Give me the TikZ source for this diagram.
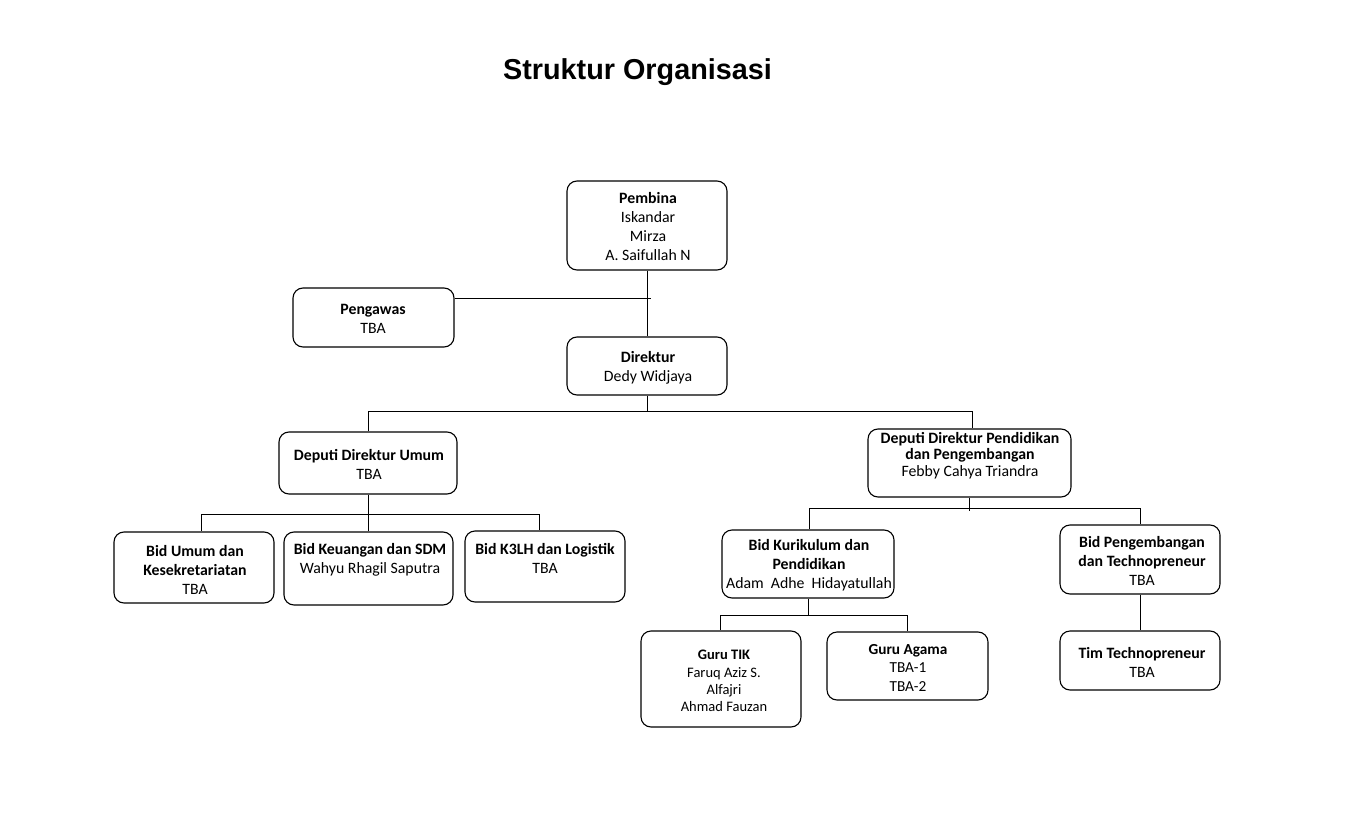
\documentclass[tikz,border=0pt]{standalone}
\usepackage{fontspec}
\setmainfont{Carlito}
\newfontfamily\titlefont{Liberation Sans}
\begin{document}
\begin{tikzpicture}[x=1pt,y=-1pt,
  box/.style={draw=black,line width=1.1pt,rounded corners=10pt,inner sep=0pt},
  txt/.style={align=center,inner sep=0pt,font=\fontsize{15.8}{19}\selectfont},
  conn/.style={draw=black,line width=1pt}]
\useasboundingbox[fill=white] (0,0) rectangle (1372,818);
% title
\node[inner sep=0pt,font=\titlefont\bfseries\fontsize{28.8}{34}\selectfont] (title) at (637.5,72.5) {Struktur Organisasi};
% boxes
\node[box,minimum width=160,minimum height=89] (pembina) at (647,225.5) {};
\node[box,minimum width=161,minimum height=59] (pengawas) at (373.5,317.5) {};
\node[box,minimum width=160,minimum height=58] (direktur) at (647,366) {};
\node[box,minimum width=178,minimum height=62] (depU) at (368,463) {};
\node[box,minimum width=203,minimum height=68] (depP) at (969.5,463) {};
\node[box,minimum width=160,minimum height=71] (bidumum) at (194,567.5) {};
\node[box,minimum width=169,minimum height=73] (keu) at (368.5,568.5) {};
\node[box,minimum width=160,minimum height=71] (k3lh) at (545,566.5) {};
\node[box,minimum width=172,minimum height=68] (kur) at (808,564) {};
\node[box,minimum width=160,minimum height=69] (peng) at (1140,559.5) {};
\node[box,minimum width=160,minimum height=96] (tik) at (721,679) {};
\node[box,minimum width=161,minimum height=68] (agama) at (907.5,666) {};
\node[box,minimum width=160,minimum height=59] (tim) at (1140,660.5) {};
% texts
\node[txt] (tpembina) at (648,227) {\textbf{Pembina}\\Iskandar\\Mirza\\A. Saifullah N};
\node[txt] (tpengawas) at (373,318.5) {\textbf{Pengawas}\\TBA};
\node[txt] (tdirektur) at (648,367.5) {\textbf{Direktur}\\Dedy Widjaya};
\node[txt] (tdepU) at (369,464.5) {\textbf{Deputi Direktur Umum}\\TBA};
\node[txt,font=\fontsize{15.8}{16.5}\selectfont] (tdepP) at (970,455.5) {\textbf{Deputi Direktur Pendidikan}\\\textbf{dan Pengembangan}\\Febby Cahya Triandra};
\node[txt] (tbidumum) at (195,569.5) {\textbf{Bid Umum dan}\\\textbf{Kesekretariatan}\\TBA};
\node[txt] (tkeu) at (370,559.5) {\textbf{Bid Keuangan dan SDM}\\Wahyu Rhagil Saputra};
\node[txt] (tk3lh) at (545,558.5) {\textbf{Bid K3LH dan Logistik}\\TBA};
\node[txt] (tkur) at (809,565.5) {\textbf{Bid Kurikulum dan}\\\textbf{Pendidikan}\\Adam\ \ Adhe\ \ Hidayatullah};
\node[txt] (tpeng) at (1142,561) {\textbf{Bid Pengembangan}\\\textbf{dan Technopreneur}\\TBA};
\node[txt,font=\fontsize{14.5}{17.3}\selectfont] (ttik) at (724,681) {\textbf{Guru TIK}\\Faruq Aziz S.\\Alfajri\\Ahmad Fauzan};
\node[txt,font=\fontsize{15.3}{18.5}\selectfont] (tagama) at (908,667.5) {\textbf{Guru Agama}\\TBA-1\\TBA-2};
\node[txt] (ttim) at (1142,662.5) {\textbf{Tim Technopreneur}\\TBA};
% connectors
\coordinate (pw) at (651,298);
\draw[conn] (pembina.south) -- (direktur.north);
\draw[conn] (pengawas.east |- pw) -- (pw);
\coordinate (bd) at (647,411);
\coordinate (bdl) at (368,411);
\coordinate (bdr) at (972,411);
\draw[conn] (direktur.south) -- (bd);
\draw[conn] (bdl) -- (bdr);
\draw[conn] (bdl) -- (bdl |- depU.north);
\draw[conn] (bdr) -- (bdr |- depP.north);
% deputi umum bus
\coordinate (bu) at (368,514);
\coordinate (bu1) at (201,514);
\coordinate (bu3) at (539,514);
\draw[conn] (depU.south) -- (bu);
\draw[conn] (bu1) -- (bu3);
\draw[conn] (bu1) -- (bu1 |- bidumum.north);
\draw[conn] (bu) -- (bu |- keu.north);
\draw[conn] (bu3) -- (bu3 |- k3lh.north);
% deputi pendidikan bus
\coordinate (bp) at (969.5,511);
\coordinate (bp1) at (809,508);
\coordinate (bp2) at (1140,508);
\draw[conn] (depP.south) -- (bp);
\draw[conn] (bp1) -- (bp2);
\draw[conn] (bp1) -- (bp1 |- kur.north);
\draw[conn] (bp2) -- (bp2 |- peng.north);
% kurikulum bus
\coordinate (bk) at (808,615);
\coordinate (bk1) at (720,615);
\coordinate (bk2) at (907,615);
\draw[conn] (kur.south) -- (bk);
\draw[conn] (bk1) -- (bk2);
\draw[conn] (bk1) -- (bk1 |- tik.north);
\draw[conn] (bk2) -- (bk2 |- agama.north);
% pengembangan to tim
\draw[conn] (peng.south) -- (tim.north);
\end{tikzpicture}
\end{document}
